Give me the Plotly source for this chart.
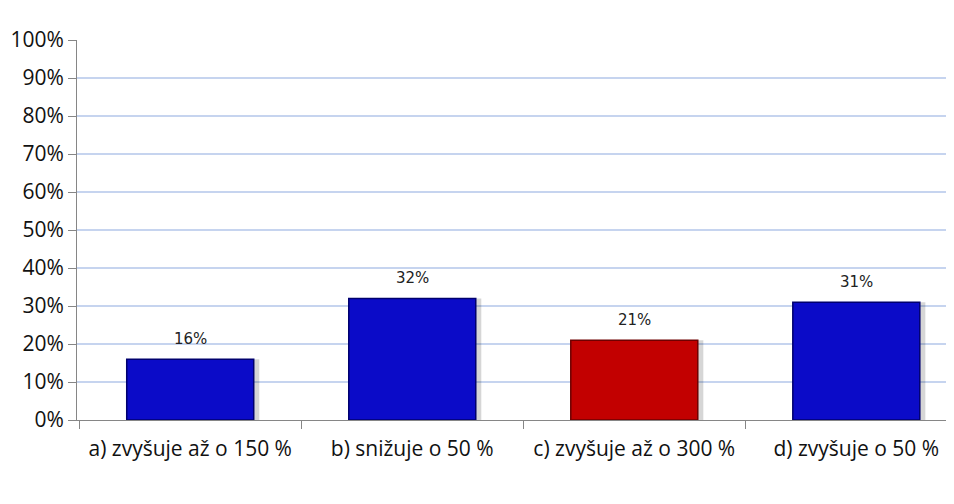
import plotly.graph_objects as go

# ── Datos ───────────────────────────────────────────────────────────────
kategorie = ['a) zvyšuje až o 150 %', 'b) snižuje o 50 %',
             'c) zvyšuje až o 300 %', 'd) zvyšuje o 50 %']
podiely = [0.16, 0.32, 0.21, 0.31]
farby = ['#0b0bc8', '#0b0bc8', '#c20000', '#0b0bc8']
okraje = ['#00006e', '#00006e', '#6e0000', '#00006e']

y_ticks = [i / 10 for i in range(11)]
ancho = 0.572

fig = go.Figure()

# sombra suave detrás de cada barra
fig.add_trace(go.Bar(
    x=kategorie, y=podiely,
    width=ancho, offset=-ancho / 2 + 0.025,
    marker=dict(color='rgba(0,0,0,0.16)', line=dict(width=0)),
    hoverinfo='skip',
))
fig.add_trace(go.Bar(
    x=kategorie,
    y=podiely,
    marker=dict(color=farby, line=dict(color=okraje, width=1.5)),
    width=ancho, offset=-ancho / 2,
    cliponaxis=False,
))

# etiquetas de datos un poco más arriba que el 'outside' por defecto
for cat, v in zip(kategorie, podiely):
    fig.add_annotation(
        x=cat, y=v, text=f'{v:.0%}', showarrow=False,
        yanchor='bottom', yshift=9,
        font=dict(family='DejaVu Sans', size=15, color='#222222'),
    )

# la página añade ~8px de margen, se compensa en el tamaño
fig.update_layout(
    width=946, height=488,
    margin=dict(l=69, r=0, t=32, b=76),
    plot_bgcolor='white',
    paper_bgcolor='white',
    font=dict(family='Open Sans', color='#111111'),
    showlegend=False,
    barmode='overlay',
)
fig.update_yaxes(
    range=[0, 1], tickvals=y_ticks, tickformat='.0%',
    tickfont=dict(size=21),
    showgrid=True, gridcolor='#c6d4ef', gridwidth=2,
    showline=True, linecolor='#868686', linewidth=1,
    ticks='outside', ticklen=8, tickcolor='#868686',
    zeroline=False, automargin=False,
)
fig.update_xaxes(
    range=[-0.51, 3.44],
    tickfont=dict(size=21), tickangle=0,
    showline=True, linecolor='#868686', linewidth=1,
    ticks='outside', ticklen=8, tickcolor='#868686',
    tickson='boundaries',
    ticklabelstandoff=10, automargin=False,
)

fig.write_html("out.html")
